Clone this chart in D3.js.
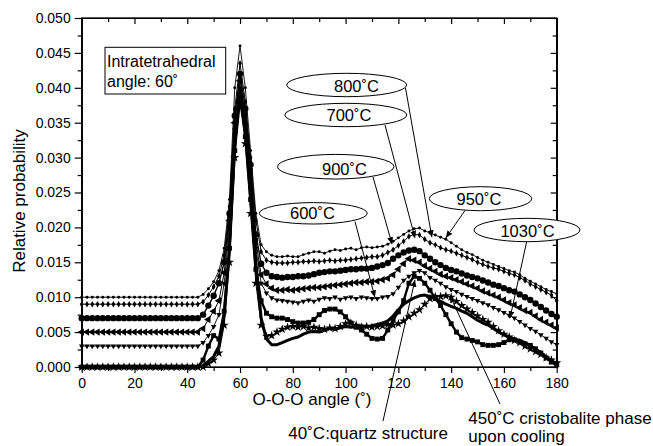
<!DOCTYPE html>
<html>
<head>
<meta charset="utf-8">
<title>O-O-O angle distribution</title>
<script src="https://cdn.jsdelivr.net/npm/d3@7"></script>
<style>
    body { margin: 0; background: #fff; }
    svg text { font-family: "Liberation Sans", Arial, Helvetica, sans-serif; fill: #000; }
    .axis path, .axis line { stroke: #000; stroke-width: 1.2px; }
</style>
</head>
<body>
<div id="chart"></div>
<script>
// O-O-O angle (deg), 2 degree steps
var angles = [0,2,4,6,8,10,12,14,16,18,20,22,24,26,28,30,32,34,36,38,40,42,
    44,46,48,50,52,54,56,58,60,62,64,66,68,70,72,74,76,78,80,82,84,86,88,90,
    92,94,96,98,100,102,104,106,108,110,112,114,116,118,120,122,124,126,128,130,
    132,134,136,138,140,142,144,146,148,150,152,154,156,158,160,162,164,166,168,170,
    172,174,176,178,180];

// top curve (small dots), shifted +0.010
var dotsTop = [0.010,0.010,0.010,0.010,0.010,0.010,0.010,0.010,0.010,0.010,0.010,0.010,0.010,0.010,0.010,0.010,0.010,0.010,0.010,0.010,0.010,0.010,
    0.010,0.0104,0.0112,0.0122,0.0138,0.017,0.024,0.040,0.046,0.040,0.031,0.022,0.0175,0.0165,0.0160,0.0158,0.0158,0.0159,0.0158,0.0158,0.0161,0.0163,0.0165,0.0165,
    0.0163,0.0166,0.0168,0.0167,0.0169,0.0170,0.0168,0.0171,0.0172,0.0171,0.0172,0.0173,0.0176,0.0180,0.0185,0.0190,0.0195,0.0198,0.0199,0.0195,
    0.0192,0.0189,0.0186,0.0183,0.0178,0.0173,0.0168,0.0164,0.0161,0.0157,0.0153,0.0150,0.0147,0.0144,0.0141,0.0138,0.0136,0.0132,0.0127,0.0123,
    0.0119,0.0115,0.0111,0.0108,0.0105];
// second curve (small diamonds), shifted +0.009
var diamonds = [0.009,0.009,0.009,0.009,0.009,0.009,0.009,0.009,0.009,0.009,0.009,0.009,0.009,0.009,0.009,0.009,0.009,0.009,0.009,0.009,0.009,0.009,
    0.009,0.0093,0.0103,0.0115,0.013,0.016,0.023,0.037,0.0435,0.038,0.030,0.021,0.0165,0.0153,0.0150,0.0149,0.0149,0.0149,0.0150,0.0150,0.0151,0.0151,0.0152,0.0151,
    0.0152,0.0153,0.0152,0.0153,0.0153,0.0154,0.0155,0.0156,0.0157,0.0158,0.0158,0.0160,0.0164,0.0168,0.0174,0.0180,0.0187,0.0190,0.0189,0.0183,
    0.0178,0.0175,0.0171,0.0168,0.0166,0.0163,0.0160,0.0157,0.0154,0.0150,0.0147,0.0144,0.0142,0.0140,0.0137,0.0134,0.0132,0.0128,0.0124,0.0119,
    0.0115,0.0111,0.0107,0.0103,0.0095];
// big filled circles, shifted +0.007
var circles = [0.007,0.007,0.007,0.007,0.007,0.007,0.007,0.007,0.007,0.007,0.007,0.007,0.007,0.007,0.007,0.007,0.007,0.007,0.007,0.007,0.007,0.007,
    0.007,0.0075,0.0088,0.0102,0.012,0.015,0.022,0.036,0.042,0.037,0.029,0.019,0.0148,0.0135,0.0130,0.0129,0.0128,0.0129,0.0129,0.0130,0.0130,0.0131,0.0133,0.0135,
    0.0136,0.0137,0.0137,0.0138,0.0139,0.0140,0.0140,0.0141,0.0141,0.0142,0.0144,0.0146,0.0149,0.0155,0.0160,0.0164,0.0167,0.0168,0.0166,0.0160,
    0.0155,0.0150,0.0146,0.0142,0.0139,0.0137,0.0134,0.0131,0.0129,0.0127,0.0124,0.0121,0.0118,0.0116,0.0113,0.0110,0.0108,0.0104,0.0100,0.0096,
    0.0091,0.0086,0.0081,0.0076,0.0072];
// triangles, shifted +0.005
var triangles = [0.005,0.005,0.005,0.005,0.005,0.005,0.005,0.005,0.005,0.005,0.005,0.005,0.005,0.005,0.005,0.005,0.005,0.005,0.005,0.005,0.005,0.005,
    0.005,0.0055,0.0068,0.008,0.0095,0.0135,0.021,0.035,0.041,0.036,0.028,0.018,0.0132,0.0119,0.0113,0.0110,0.0110,0.0111,0.0110,0.0111,0.0112,0.0113,0.0114,0.0114,
    0.0115,0.0116,0.0117,0.0118,0.0119,0.0120,0.0121,0.0121,0.0122,0.0122,0.0123,0.0125,0.0127,0.0132,0.0140,0.0148,0.0155,0.0153,0.0150,0.0145,
    0.0141,0.0137,0.0133,0.0130,0.0128,0.0125,0.0122,0.0119,0.0116,0.0113,0.0109,0.0106,0.0103,0.0100,0.0096,0.0092,0.0089,0.0085,0.0081,0.0078,
    0.0073,0.0068,0.0064,0.0060,0.0056];
// down triangles, shifted +0.003
var downTri = [0.003,0.003,0.003,0.003,0.003,0.003,0.003,0.003,0.003,0.003,0.003,0.003,0.003,0.003,0.003,0.003,0.003,0.003,0.003,0.003,0.003,0.003,
    0.003,0.0035,0.0045,0.0058,0.0075,0.012,0.020,0.034,0.040,0.035,0.027,0.017,0.0120,0.0106,0.0099,0.0096,0.0095,0.0094,0.0093,0.0092,0.0094,0.0096,0.0094,0.0097,
    0.0099,0.0098,0.0100,0.0097,0.0099,0.0100,0.0098,0.0100,0.0099,0.0098,0.0098,0.0100,0.0101,0.0105,0.0114,0.0124,0.0130,0.0135,0.0138,0.0135,
    0.0128,0.0124,0.0120,0.0115,0.0111,0.0108,0.0104,0.0101,0.0098,0.0095,0.0092,0.0089,0.0085,0.0082,0.0078,0.0074,0.0070,0.0065,0.0060,0.0055,
    0.0051,0.0046,0.0041,0.0036,0.0032];
// squares (no shift)
var squares = [0,0,0,0,0,0,0,0,0,0,0,0,0,0,0,0,0,0,0,0,0,0,
    0,0.001,0.003,0.0045,0.004,0.008,0.017,0.031,0.0385,0.033,0.024,0.014,0.0095,0.0077,0.0072,0.0070,0.0070,0.0068,0.0065,0.0063,0.0063,0.0064,0.0068,0.0075,
    0.0081,0.0083,0.0083,0.0079,0.0072,0.0063,0.0057,0.0053,0.0047,0.0041,0.0040,0.0041,0.0053,0.0067,0.0079,0.0095,0.0120,0.0130,0.0127,0.0120,
    0.0110,0.0098,0.0088,0.0075,0.0062,0.0050,0.0042,0.0040,0.0038,0.0036,0.0032,0.0031,0.0031,0.0032,0.0035,0.0039,0.0039,0.0036,0.0033,0.0031,
    0.0026,0.0020,0.0013,0.0007,0.0003];
// stars (no shift)
var stars = [0,0,0,0,0,0,0,0,0,0,0,0,0,0,0,0,0,0,0,0,0,0,
    0,0,0.0005,0.001,0.002,0.006,0.015,0.030,0.039,0.032,0.022,0.012,0.0060,0.0044,0.0045,0.0050,0.0054,0.0057,0.0058,0.0057,0.0058,0.0056,0.0057,0.0055,
    0.0054,0.0056,0.0055,0.0058,0.0062,0.0063,0.0060,0.0057,0.0058,0.0057,0.0058,0.0059,0.0061,0.0060,0.0062,0.0066,0.0072,0.0077,0.0082,0.0090,
    0.0098,0.0101,0.0101,0.0102,0.0100,0.0094,0.0088,0.0083,0.0078,0.0073,0.0068,0.0064,0.0058,0.0052,0.0047,0.0043,0.0038,0.0035,0.0030,0.0026,
    0.0022,0.0018,0.0013,0.0010,0.0006];
// thick line (no shift)
var thick = [0,0,0,0,0,0,0,0,0,0,0,0,0,0,0,0,0,0,0,0,0,0,
    0,0.0002,0.0008,0.0015,0.003,0.0075,0.017,0.032,0.040,0.034,0.026,0.015,0.0070,0.0040,0.0032,0.0032,0.0035,0.0038,0.0041,0.0043,0.0047,0.0050,0.0051,0.0050,
    0.0053,0.0055,0.0054,0.0056,0.0058,0.0057,0.0058,0.0059,0.0058,0.0059,0.0061,0.0063,0.0066,0.0073,0.0082,0.0090,0.0095,0.0099,0.0102,0.0103,
    0.0101,0.0098,0.0094,0.0090,0.0087,0.0084,0.0080,0.0077,0.0072,0.0067,0.0063,0.0060,0.0055,0.0050,0.0046,0.0043,0.0040,0.0038,0.0035,0.0030,
    0.0026,0.0020,0.0014,0.0009,0.0005];

var xTicks = [0,20,40,60,80,100,120,140,160,180];
var xMinor = [10,30,50,70,90,110,130,150,170];
var yTicks = [0,0.005,0.010,0.015,0.020,0.025,0.030,0.035,0.040,0.045,0.050];
var yMinor = [0.0025,0.0075,0.0125,0.0175,0.0225,0.0275,0.0325,0.0375,0.0425,0.0475];

var width = 653, height = 446;
var svg = d3.select("#chart").append("svg")
    .attr("width", width)
    .attr("height", height);

var x = d3.scaleLinear().domain([0, 180]).range([81.7, 556.7]);
var y = d3.scaleLinear().domain([0, 0.05]).range([367, 18]);

// axes
function noLabel() { return ""; }
svg.append("g").attr("class", "axis").attr("transform", "translate(0,367)")
    .call(d3.axisBottom(x).tickValues(xTicks).tickSize(6).tickSizeOuter(0).tickPadding(5).tickFormat(d3.format("d")));
svg.append("g").attr("class", "axis").attr("transform", "translate(0,367)")
    .call(d3.axisBottom(x).tickValues(xMinor).tickSize(4).tickSizeOuter(0).tickFormat(noLabel));
svg.append("g").attr("class", "axis").attr("transform", "translate(81.7,0)")
    .call(d3.axisLeft(y).tickValues(yTicks).tickSize(7).tickSizeOuter(0).tickPadding(4).tickFormat(d3.format(".3f")));
svg.append("g").attr("class", "axis").attr("transform", "translate(81.7,0)")
    .call(d3.axisLeft(y).tickValues(yMinor).tickSize(4).tickSizeOuter(0).tickFormat(noLabel));
// top and right: inward ticks
svg.append("g").attr("class", "axis").attr("transform", "translate(0,18)")
    .call(d3.axisTop(x).tickValues(xTicks).tickSize(-6).tickSizeOuter(0).tickFormat(noLabel));
svg.append("g").attr("class", "axis").attr("transform", "translate(0,18)")
    .call(d3.axisTop(x).tickValues(xMinor).tickSize(-4).tickSizeOuter(0).tickFormat(noLabel));
svg.append("g").attr("class", "axis").attr("transform", "translate(556.7,0)")
    .call(d3.axisRight(y).tickValues(yTicks).tickSize(-6).tickSizeOuter(0).tickFormat(noLabel));
svg.append("g").attr("class", "axis").attr("transform", "translate(556.7,0)")
    .call(d3.axisRight(y).tickValues(yMinor).tickSize(-4).tickSizeOuter(0).tickFormat(noLabel));
svg.selectAll(".axis text").attr("font-size", "14px")
    .style("font-family", "'Liberation Sans', Arial, sans-serif");

// axis titles
svg.append("text").attr("x", 312).attr("y", 405).attr("text-anchor", "middle")
    .attr("font-size", "17px").text("O-O-O angle (˚)");
svg.append("text").attr("transform", "translate(25,201) rotate(-90)").attr("text-anchor", "middle")
    .attr("font-size", "17px").text("Relative probability");

// series
var series = [
    { v: thick, w: 3, sym: null },
    { v: stars, w: 1, sym: d3.symbolStar, size: 26, rot: 0 },
    { v: squares, w: 2.4, sym: d3.symbolSquare, size: 24, rot: 0 },
    { v: downTri, w: 0.9, sym: d3.symbolTriangle, size: 13, rot: 180 },
    { v: triangles, w: 1, sym: d3.symbolTriangle, size: 24, rot: -90 },
    { v: circles, w: 1.4, sym: d3.symbolCircle, size: 32, rot: 0 },
    { v: diamonds, w: 1, sym: d3.symbolDiamond, size: 12, rot: 0 },
    { v: dotsTop, w: 0.9, sym: d3.symbolCircle, size: 7, rot: 0 }
];

var line = d3.line()
    .x(function (d, i) { return x(angles[i]); })
    .y(function (d) { return y(d); });

series.forEach(function (s) {
    svg.append("path").datum(s.v)
        .attr("fill", "none").attr("stroke", "#000")
        .attr("stroke-width", s.w).attr("stroke-linejoin", "round")
        .attr("d", line);
    if (s.sym) {
        svg.append("g").selectAll("path").data(s.v).enter().append("path")
            .attr("d", d3.symbol().type(s.sym).size(s.size))
            .attr("fill", "#000")
            .attr("transform", function (d, i) {
                return "translate(" + x(angles[i]) + "," + y(d) + ") rotate(" + s.rot + ")";
            });
    }
});

// frame
svg.append("rect").attr("x", 81.7).attr("y", 18).attr("width", 475).attr("height", 349)
    .attr("fill", "none").attr("stroke", "#000").attr("stroke-width", 1.3);

// annotation box
svg.append("rect").attr("x", 105).attr("y", 47.3).attr("width", 120.7).attr("height", 46.7)
    .attr("fill", "#fff").attr("stroke", "#000").attr("stroke-width", 1);
svg.append("text").attr("x", 107).attr("y", 67).attr("font-size", "16px").text("Intratetrahedral");
svg.append("text").attr("x", 107).attr("y", 86.5).attr("font-size", "16px").text("angle: 60˚");

// arrow head
svg.append("defs").append("marker")
    .attr("id", "arr").attr("viewBox", "0 -3 7 6").attr("refX", 7).attr("refY", 0)
    .attr("markerWidth", 7).attr("markerHeight", 6).attr("markerUnits", "userSpaceOnUse")
    .attr("orient", "auto")
    .append("path").attr("d", "M0,-3L7,0L0,3Z").attr("fill", "#000");

// ellipse labels: pointer from ellipse edge to a point on a curve
var labels = [
    { t: "800˚C", cx: 346.7, cy: 85, rx: 60, ry: 11.7, tx: 356.5, ty: 91.5, sx: 405.5, sy: 88, a: 132.7, p: 0.0186 },
    { t: "700˚C", cx: 345.8, cy: 115, rx: 61, ry: 11.7, tx: 349, ty: 121, sx: 385, sy: 125, a: 126.3, p: 0.0185 },
    { t: "900˚C", cx: 335.7, cy: 166.7, rx: 58.3, ry: 12.3, tx: 344.5, ty: 175, sx: 373, sy: 177, a: 117.6, p: 0.0176 },
    { t: "600˚C", cx: 313.3, cy: 213.3, rx: 54, ry: 10.7, tx: 312.5, ty: 219, sx: 355, sy: 221.5, a: 111.1, p: 0.0100 },
    { t: "950˚C", cx: 480.5, cy: 198.7, rx: 51.2, ry: 12, tx: 479, ty: 205, sx: 465, sy: 210.5, a: 138.0, p: 0.0185 },
    { t: "1030˚C", cx: 527, cy: 230, rx: 53, ry: 11.7, tx: 527.5, ty: 236.5, sx: 526.7, sy: 241.5, a: 162.3, p: 0.0070 }
];
labels.forEach(function (l) {
    svg.append("line").attr("x1", l.sx).attr("y1", l.sy).attr("x2", x(l.a)).attr("y2", y(l.p))
        .attr("stroke", "#000").attr("stroke-width", 1).attr("marker-end", "url(#arr)");
    svg.append("ellipse").attr("cx", l.cx).attr("cy", l.cy).attr("rx", l.rx).attr("ry", l.ry)
        .attr("fill", "#fff").attr("stroke", "#000").attr("stroke-width", 1);
    svg.append("text").attr("x", l.tx).attr("y", l.ty).attr("text-anchor", "middle")
        .attr("font-size", "16.5px").text(l.t);
});

// bottom notes
svg.append("line").attr("x1", 383).attr("y1", 421).attr("x2", x(126.3)).attr("y2", y(0.0125))
    .attr("stroke", "#000").attr("stroke-width", 1).attr("marker-end", "url(#arr)");
svg.append("text").attr("x", 288.3).attr("y", 438.5).attr("font-size", "17px").text("40˚C:quartz structure");
svg.append("line").attr("x1", 500).attr("y1", 404).attr("x2", x(139.6)).attr("y2", y(0.0102))
    .attr("stroke", "#000").attr("stroke-width", 1).attr("marker-end", "url(#arr)");
svg.append("text").attr("x", 468.3).attr("y", 423.5).attr("font-size", "17px").text("450˚C cristobalite phase");
svg.append("text").attr("x", 468.3).attr("y", 441.5).attr("font-size", "17px").text("upon cooling");
</script>
</body>
</html>
